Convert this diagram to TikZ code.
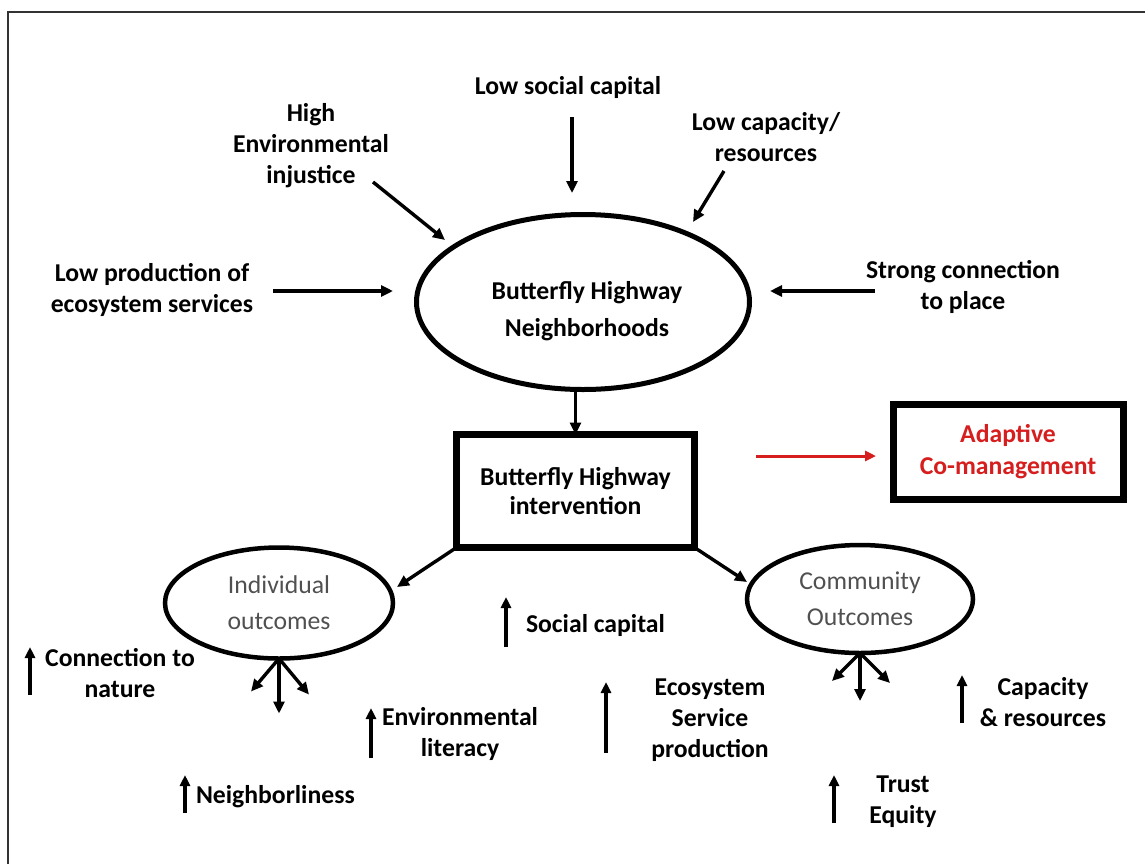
\documentclass[tikz,border=0pt]{standalone}
\usepackage{fontspec}
\setmainfont{Carlito}
\usetikzlibrary{shapes.geometric,arrows.meta}
\definecolor{acmred}{RGB}{214,30,30}
\definecolor{outgray}{RGB}{80,80,80}
\begin{document}
\begin{tikzpicture}[x=1pt,y=-1pt,
  every node/.style={inner sep=0pt, outer sep=0pt},
  lbl/.style={font=\fontsize{25.7}{31}\selectfont\bfseries, align=center},
  arr/.style={line width=3.4pt, -{Triangle[length=12pt,width=11pt]}},
  uparr/.style={line width=3.5pt, -{Triangle[length=11pt,width=10pt]}},
  bigoval/.style={ellipse, draw, line width=5pt},
  outoval/.style={ellipse, draw, line width=4.5pt, minimum width=228pt, minimum height=111pt,
    font=\fontsize{25.7}{36}\selectfont, text=outgray, align=center},
  thickbox/.style={draw, line width=7pt}]

\useasboundingbox (0,0) rectangle (1145,863);

% outer frame (only the top and left sides fall inside the page)
\draw[line width=2.2pt, black!80] (8,880) -- (8,12) -- (1160,12);

% pressures acting on the neighbourhoods
\node[lbl] (high)   at (311,146) {High\\Environmental\\injustice};
\node[lbl] (lsc)    at (568,87)  {Low social capital};
\node[lbl] (lcap)   at (766,137) {Low capacity/\\resources};
\node[lbl] (lprod)  at (152,290) {Low production of\\ecosystem services};
\node[lbl] (strong) at (963,287) {Strong connection\\to place};

% central neighbourhood oval
\node[bigoval, minimum width=333pt, minimum height=175pt] (hood) at (583,302) {};
\node[lbl, font=\fontsize{25.7}{37}\selectfont\bfseries] (hoodtxt) at (587,311) {Butterfly Highway\\Neighborhoods};

% intervention and co-management boxes
\node[thickbox, lbl, font=\fontsize{25.7}{29}\selectfont\bfseries,
      minimum width=238pt, minimum height=113pt] (interv) at (575.5,491) {Butterfly Highway\\intervention};
\node[thickbox, lbl, text=acmred, font=\fontsize{25.7}{32}\selectfont\bfseries,
      minimum width=230pt, minimum height=95pt] (acm) at (1008,451.5) {Adaptive\\Co-management};

% outcome ovals
\node[outoval] (indiv) at (279,603) {Individual\\outcomes};
\node[outoval, minimum width=226pt, minimum height=108pt] (comm) at (860,599) {Community\\Outcomes};

% end points of the incoming arrows
\coordinate (highS) at (373,182);
\coordinate (highE) at (445,240);
\coordinate (lscS)  at (572,117);
\coordinate (lscE)  at (572,193);
\coordinate (lcapS) at (724,171);
\coordinate (lcapE) at (693,222);
\coordinate (lprodS) at (273,291);
\coordinate (lprodE) at (393,291);
\coordinate (strongS) at (875,291);
\coordinate (strongE) at (770,291);
\coordinate (redS) at (756,456);
\coordinate (redE) at (876,456);

\draw[arr] (highS) -- (highE);
\draw[arr] (lscS) -- (lscE);
\draw[arr] (lcapS) -- (lcapE);
\draw[arr] (lprodS) -- (lprodE);
\draw[arr] (strongS) -- (strongE);

\draw[arr] (interv.north |- hood.south) -- (interv.north);
\draw[line width=3pt, acmred, -{Triangle[length=11pt,width=10pt]}] (redS) -- (redE);

\coordinate (indivE) at (397,587);
\coordinate (commE)  at (747,582);
\draw[arr] (interv.south west) -- (indivE);
\draw[arr] (interv.south east) -- (commE);

% fans of arrows below the outcome ovals
\draw[arr] (indiv.south) -- ++(-28,33);
\draw[arr] (indiv.south) -- ++(0,55);
\draw[arr] (indiv.south) -- ++(30,36);
\draw[arr] (comm.south) -- ++(-28,28);
\draw[arr] (comm.south) -- ++(0,48);
\draw[arr] (comm.south) -- ++(30,30);

% outcome labels with rising arrows
\node[lbl] (conn) at (120,673) {Connection to\\nature};
\coordinate (connA) at (30,695); \coordinate (connB) at (30,647);
\draw[uparr] (connA) -- (connB);

\node[lbl, anchor=west] (socap) at (526,625) {Social capital};
\coordinate (socapA) at (506,647); \coordinate (socapB) at (506,597);
\draw[uparr] (socapA) -- (socapB);

\node[lbl] (envlit) at (460,734) {Environmental\\literacy};
\coordinate (envA) at (371,758); \coordinate (envB) at (371,708);
\draw[uparr] (envA) -- (envB);

\node[lbl, anchor=west] (neigh) at (196,797) {Neighborliness};
\coordinate (neighA) at (185,813); \coordinate (neighB) at (185,775);
\draw[uparr] (neighA) -- (neighB);

\node[lbl] (ecos) at (710,720) {Ecosystem\\Service\\production};
\coordinate (ecosA) at (606,753); \coordinate (ecosB) at (606,682);
\draw[uparr] (ecosA) -- (ecosB);

\node[lbl] (capres) at (1043,702) {Capacity\\\& resources};
\coordinate (capA) at (962,723); \coordinate (capB) at (962,675);
\draw[uparr] (capA) -- (capB);

\node[lbl] (trust) at (903,802) {Trust\\Equity};
\coordinate (trustA) at (834,823); \coordinate (trustB) at (834,775);
\draw[uparr] (trustA) -- (trustB);

\end{tikzpicture}
\end{document}
